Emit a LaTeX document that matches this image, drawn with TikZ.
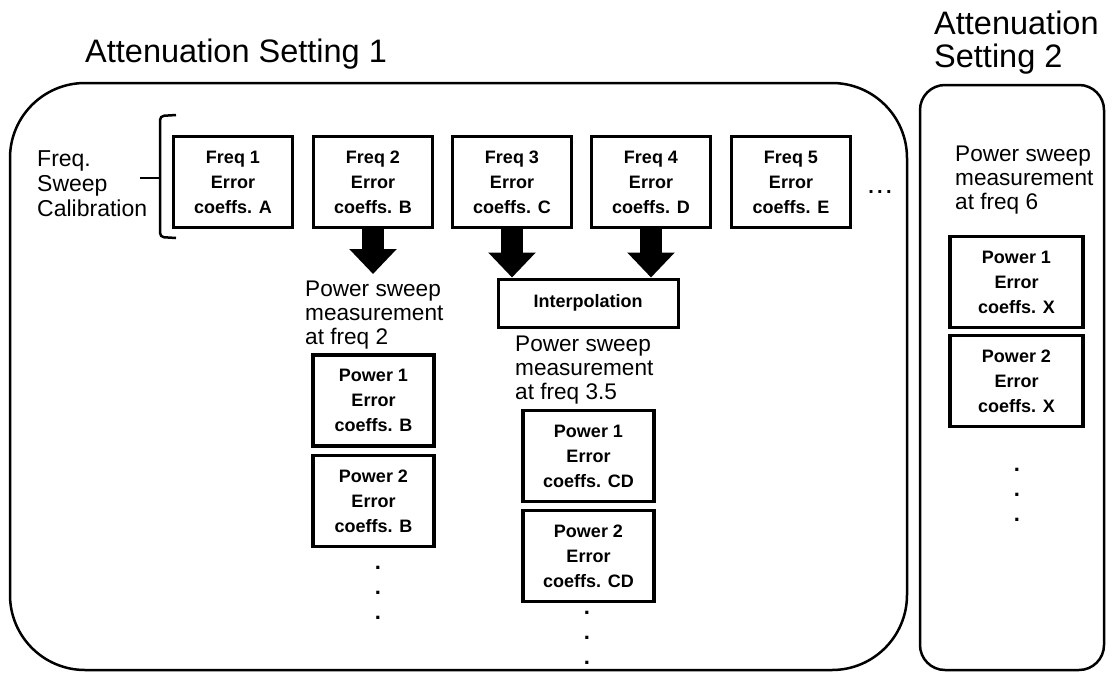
\documentclass[tikz,border=0pt]{standalone}
\usepackage{fontspec}
\setmainfont{Liberation Sans}
\usepackage{tikz}
\usetikzlibrary{arrows.meta, positioning}
\tikzset{coeffbox/.style={rectangle, draw, line width=3.5pt, minimum width=119pt, minimum height=91pt,
  align=center, font=\fontsize{18}{25}\selectfont\bfseries}}
\tikzset{bigarrow/.style={line width=22pt, -{Triangle[width=46pt, length=25pt]}}}
\tikzset{sweeptext/.style={anchor=north west, align=left, inner sep=0pt,
  font=\fontsize{22.6}{24}\selectfont}}
\tikzset{titletext/.style={anchor=north west, align=left, inner sep=0pt,
  font=\fontsize{32.5}{32.5}\selectfont}}
\newcommand{\moredots}[1]{node[anchor=north, align=center, inner sep=0pt,
  font=\fontsize{22}{25}\selectfont\bfseries, name={#1}] {.\\.\\.}}

\begin{document}
\begin{tikzpicture}[x=1pt, y=-1pt]
  \useasboundingbox (0,0) rectangle (1112,675);

  \node[titletext] (title1) at (85,39) {Attenuation Setting 1};
  \node[titletext] (title2) at (934,11) {Attenuation\\Setting 2};

  \draw[line width=2.5pt, rounded corners=75pt] (10,83) rectangle (907,670);
  \draw[line width=2.5pt, rounded corners=25pt] (920,85) rectangle (1104,670);

  % frequency sweep
  \node[sweeptext, font=\fontsize{23}{25}\selectfont] (cal) at (37,150) {Freq.\\Sweep\\Calibration};
  \draw[line width=2.5pt, rounded corners=4pt] (176,115) -- (160,116) -- (160,237) -- (176,238);
  \draw[line width=2.5pt] (160,178) -- (140,178);

  \foreach \i/\x/\c in {1/233/A, 2/373/B, 3/512/C, 4/651/D, 5/791/E}
    \node[coeffbox] (f\i) at (\x,182) {Freq \i\\Error\\coeffs. \c};
  \node[font=\fontsize{20}{20}\selectfont\bfseries] (fdots) at (880,192) {.\,.\,.};

  % freq 2
  \node[sweeptext] (ps2) at (305,281) {Power sweep\\measurement\\at freq 2};
  \node[coeffbox, minimum width=121pt] (p1b) at (373.5,400.5) {Power 1\\Error\\coeffs. B};
  \node[coeffbox, minimum width=121pt] (p2b) at (373.5,501) {Power 2\\Error\\coeffs. B};
  \draw (378,566) \moredots{bdots};

  % freq 3.5
  \node[rectangle, draw, line width=3pt, minimum width=180pt, minimum height=48pt,
    font=\fontsize{18}{20}\selectfont\bfseries] (interp) at (588,303) {Interpolation};
  \node[sweeptext] (ps35) at (515,336) {Power sweep\\measurement\\at freq 3.5};
  \node[coeffbox, minimum width=131pt] (p1cd) at (588.5,456) {Power 1\\Error\\coeffs. CD};
  \node[coeffbox, minimum width=131pt] (p2cd) at (588.5,556) {Power 2\\Error\\coeffs. CD};
  \draw (587,611) \moredots{cddots};

  % attenuation 2
  \node[sweeptext] (ps6) at (955,146) {Power sweep\\measurement\\at freq 6};
  \node[coeffbox, minimum width=133pt] (p1x) at (1016.5,282) {Power 1\\Error\\coeffs. X};
  \node[coeffbox, minimum width=133pt] (p2x) at (1016.5,381) {Power 2\\Error\\coeffs. X};
  \draw (1017,468) \moredots{xdots};

  \draw[bigarrow] (f2.south) -- ([yshift=7pt]ps2.north -| f2.south);
  \draw[bigarrow] (f3.south) -- (f3.south |- interp.north);
  \draw[bigarrow] (f4.south) -- (f4.south |- interp.north);

\end{tikzpicture}
\end{document}
